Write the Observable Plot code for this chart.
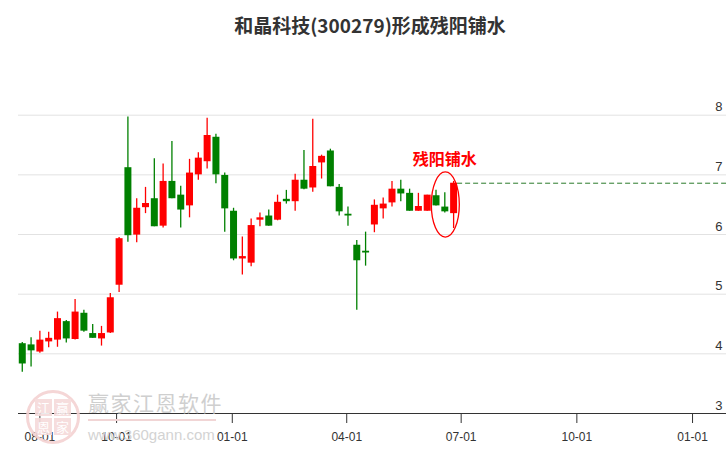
<!DOCTYPE html>
<html><head><meta charset="utf-8">
<script src="https://cdn.jsdelivr.net/npm/d3@7"></script>
<script src="https://cdn.jsdelivr.net/npm/@observablehq/plot@0.6"></script>
<style>
body{margin:0;background:#fff;width:726px;height:450px;overflow:hidden;position:relative;font-family:"Liberation Sans",Arial,sans-serif}
#title{height:50px;line-height:50px;text-align:center;font-weight:bold;font-size:19px;font-family:"Noto Sans CJK SC","Noto Sans",sans-serif;color:#333;padding-left:14px;box-sizing:border-box;width:726px}
#chart svg{display:block}
.wm{position:absolute;color:#cfcfcf;white-space:nowrap;pointer-events:none}
#wm1{left:88px;top:387px;font-size:21px;font-family:"Noto Sans CJK SC",sans-serif;letter-spacing:1.5px}
#wm2{left:88px;top:426px;font-size:15px;font-family:"Liberation Sans",Arial,sans-serif;color:#d3d3d3}
#wmline{position:absolute;left:88px;top:419px;width:128px;height:2px;background:#f1d5d5}
#logo{position:absolute;left:26px;top:390px;width:48px;height:48px;border:3px solid #f4d2d2;border-radius:50%;opacity:.9}
#logo span{position:absolute;width:17px;height:17px;background:#f6dada;color:#fff;font-size:13px;line-height:17px;text-align:center;font-family:"Noto Sans CJK SC",sans-serif}
</style></head>
<body>
<div id="title"></div>
<div id="chart"></div>
<div id="logo"><span style="left:6px;top:6px">江</span><span style="left:25px;top:6px">赢</span><span style="left:6px;top:25px">恩</span><span style="left:25px;top:25px">家</span></div>
<div class="wm" id="wm1">赢家江恩软件</div>
<div id="wmline"></div>
<div class="wm" id="wm2">www.360gann.com</div>
<script>
const chartTitle = "和晶科技(300279)形成残阳铺水";
const signalLabel = "残阳铺水";
const dates = ["2023-07-18","2023-07-25","2023-08-01","2023-08-08","2023-08-15","2023-08-22","2023-08-29","2023-09-05","2023-09-12","2023-09-19","2023-09-26","2023-10-03","2023-10-10","2023-10-17","2023-10-24","2023-10-31","2023-11-07","2023-11-14","2023-11-21","2023-11-28","2023-12-05","2023-12-12","2023-12-19","2023-12-26","2024-01-02","2024-01-09","2024-01-16","2024-01-23","2024-01-30","2024-02-06","2024-02-13","2024-02-20","2024-02-27","2024-03-05","2024-03-12","2024-03-19","2024-03-26","2024-04-02","2024-04-09","2024-04-16","2024-04-23","2024-04-30","2024-05-07","2024-05-14","2024-05-21","2024-05-28","2024-06-04","2024-06-11","2024-06-18","2024-06-25"];
const opens  = [4.17,4.15,4.03,4.20,4.23,4.54,4.24,4.68,4.34,4.25,4.35,5.15,7.12,5.99,6.45,6.60,6.14,6.89,6.66,6.48,7.00,7.22,7.63,6.99,6.39,5.59,5.52,6.24,6.31,6.24,6.59,6.55,6.91,6.78,7.20,7.40,6.79,6.34,5.82,5.72,6.16,6.43,6.53,6.76,6.69,6.39,6.39,6.65,6.46,6.35];
const highs  = [4.19,4.27,4.38,4.36,4.70,4.56,4.91,4.73,4.49,4.46,5.01,5.95,7.97,6.60,6.79,7.27,7.18,7.56,6.81,7.26,7.37,7.95,7.68,7.03,6.44,5.96,6.26,6.36,6.41,6.66,6.74,7.01,7.41,7.93,7.33,7.43,6.84,6.46,5.90,6.04,6.58,6.61,6.89,6.91,6.76,6.69,6.66,6.74,6.70,6.89];
const lows   = [3.69,3.78,4.01,4.10,4.11,4.18,4.23,4.36,4.26,4.13,4.34,5.03,5.87,5.86,6.35,6.13,6.11,6.60,6.11,6.28,6.91,7.10,6.85,6.04,5.56,5.32,5.46,6.13,6.14,6.23,6.51,6.39,6.75,6.71,6.93,6.80,6.31,6.14,4.73,5.47,6.03,6.26,6.46,6.55,6.39,6.39,6.39,6.48,6.36,6.10];
const closes = [3.83,4.05,4.23,4.26,4.59,4.25,4.70,4.38,4.26,4.34,4.94,5.93,5.98,6.44,6.52,6.13,6.89,6.60,6.41,7.03,7.28,7.66,7.00,6.43,5.59,5.63,6.15,6.28,6.14,6.54,6.55,6.91,6.76,7.14,7.31,6.80,6.38,6.31,5.56,5.69,6.49,6.51,6.76,6.68,6.39,6.47,6.66,6.48,6.38,6.86];
const yTicks = [3,4,5,6,7,8];
const xTickDates = ["2023-08-01","2023-10-01","2024-01-01","2024-04-01","2024-07-01","2024-10-01","2025-01-01"];
const xDomainDates = ["2023-07-15","2025-01-28"];

document.getElementById("title").textContent = chartTitle;
const parse = d3.utcParse("%Y-%m-%d");
const RED = "#ff0000", GREEN = "#008000";
const candles = dates.map((d,i)=>({date:parse(d), open:opens[i], high:highs[i], low:lows[i], close:closes[i]}));
candles.forEach(c=>c.color = c.close >= c.open ? RED : GREEN);
const last = candles[candles.length-1];
const tail = candles.slice(-3);
const tailHigh = d3.max(tail, d=>d.high), tailLow = d3.min(tail, d=>d.low);
const mid = candles[candles.length-2];
const xDomain = xDomainDates.map(parse);

const ellipseMark = (index, scales) => {
  const e = d3.create("svg:ellipse")
    .attr("cx", scales.x(mid.date) + 1)
    .attr("cy", scales.y((tailHigh+tailLow)/2))
    .attr("rx", 14)
    .attr("ry", Math.abs(scales.y(tailLow)-scales.y(tailHigh))/2 + 9)
    .attr("fill","none").attr("stroke",RED).attr("stroke-width",1.3);
  return e.node();
};

const chart = Plot.plot({
  width:726, height:400,
  marginTop:11, marginBottom:37, marginLeft:18, marginRight:0,
  x:{type:"utc", domain:xDomain},
  y:{domain:[3,8.9], axis:null},
  style:{fontFamily:"'Liberation Sans', Arial, sans-serif", fontSize:"12px", color:"#333", background:"#fff", overflow:"visible"},
  marks:[
    Plot.ruleY(yTicks.filter(t=>t>yTicks[0]), {stroke:"#e2e2e2", strokeWidth:1}),
    Plot.ruleY([last], {y:"close", x1:"date", x2:()=>xDomain[1], dx:4, stroke:"#2a7a2a", strokeDasharray:"5,3", strokeWidth:1}),
    Plot.ruleX(candles, {x:"date", y1:"low", y2:"high", stroke:"color", strokeWidth:1.3}),
    Plot.ruleX(candles, {x:"date", y1:"open", y2:"close", stroke:"color", strokeWidth:7}),
    Plot.ruleY([yTicks[0]], {stroke:"#333", strokeWidth:1}),
    Plot.axisX({ticks:xTickDates.map(parse), tickFormat:d3.utcFormat("%m-%d"), tickSize:10, tickPadding:9, fontSize:12, stroke:"#333", fill:"#333"}),
    Plot.text(yTicks, {y:d=>d, text:d=>String(d), frameAnchor:"right", textAnchor:"end", dx:-4, dy:-8, fontSize:13, fill:"#333"}),
    Plot.text([mid], {x:"date", y:()=>tailHigh, text:()=>signalLabel, dy:-22, fill:RED, fontWeight:"bold", fontSize:16, fontFamily:"'Noto Sans CJK SC', sans-serif"}),
    ellipseMark
  ]
});
document.getElementById("chart").appendChild(chart);
</script>
</body></html>
